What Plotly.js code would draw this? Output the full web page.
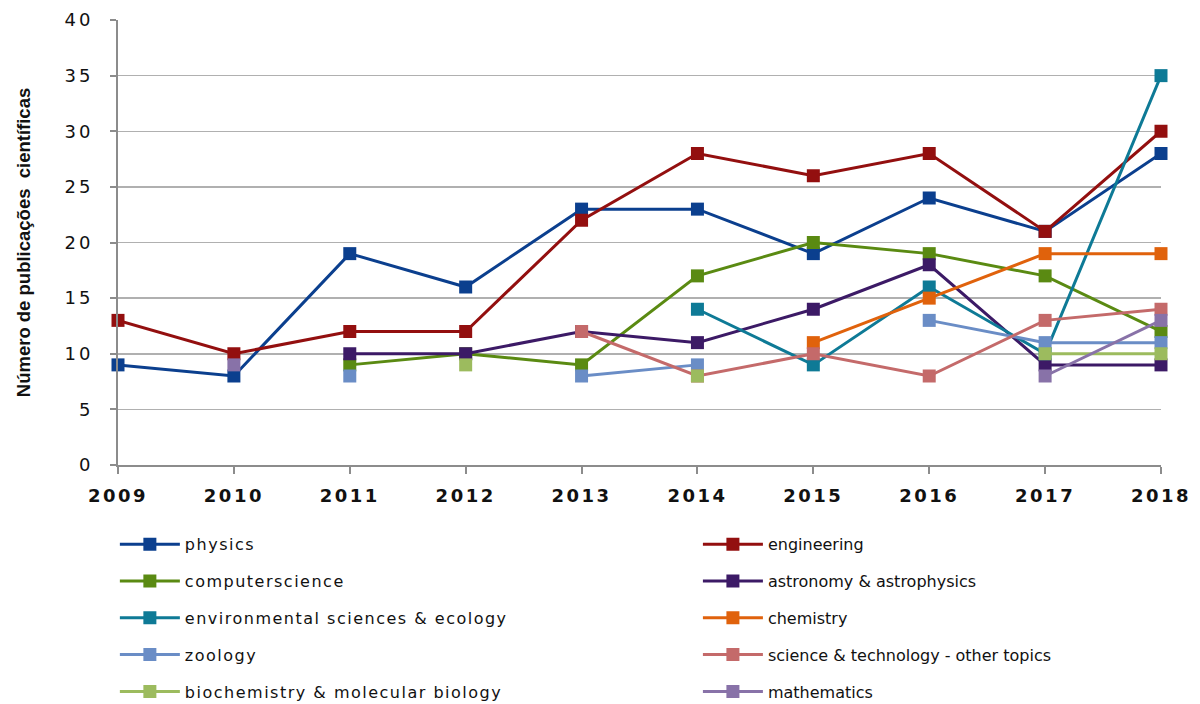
<!DOCTYPE html>
<html><head><meta charset="utf-8">
<script src="https://cdn.plot.ly/plotly-3.0.1.min.js"></script>
<style>
body{margin:0;background:#fff}#c{width:1200px;height:704px}
.xtick text{letter-spacing:2.5px}
.ytick text{letter-spacing:3px}
.legendtext{letter-spacing:1.5px}
</style>
</head><body><div id="c"></div>
<script>
const years = [2009, 2010, 2011, 2012, 2013, 2014, 2015, 2016, 2017, 2018];
const physics      = [9, 8, 19, 16, 23, 23, 19, 24, 21, 28];
const engineering  = [13, 10, 12, 12, 22, 28, 26, 28, 21, 30];
const computerSci  = [null, null, 9, 10, 9, 17, 20, 19, 17, 12];
const astronomy    = [null, null, 10, 10, 12, 11, 14, 18, 9, 9];
const environment  = [null, null, null, null, null, 14, 9, 16, 10, 35];
const chemistry    = [null, null, null, null, null, null, 11, 15, 19, 19];
const zoology      = [null, null, 8, null, 8, 9, null, 13, 11, 11];
const sciTech      = [null, null, null, null, 12, 8, 10, 8, 13, 14];
const biochem      = [null, null, null, 9, null, 8, null, null, 10, 10];
const mathematics  = [null, 9, null, null, null, null, null, null, 8, 13];

const seriesData = [physics, engineering, computerSci, astronomy, environment, chemistry, zoology, sciTech, biochem, mathematics];
const colors = ["#0B3F8E", "#930F0F", "#5A8A12", "#3C1A66", "#0E7A96", "#E0620C", "#6A8DC6", "#C46A6A", "#9CBB5E", "#8872A8"];
const legendLabels = ["physics", "engineering", "computerscience", "astronomy & astrophysics",
  "environmental sciences & ecology", "chemistry", "zoology", "science & technology - other topics",
  "biochemistry & molecular biology", "mathematics"];

const traces = seriesData.map((d, i) => ({
  x: years, y: d, type: "scatter", mode: "lines+markers",
  name: legendLabels[i],
  legend: i % 2 === 0 ? "legend" : "legend2",
  legendgroup: "g" + i,
  line: {color: colors[i], width: 3},
  marker: {symbol: "square", size: 13, color: colors[i]},
  cliponaxis: false,
  connectgaps: false
}));

const tickFont = "'DejaVu Sans', sans-serif";
const legFont = {family: "'DejaVu Sans', sans-serif", size: 16, color: "#111"};
const layout = {
  width: 1200, height: 704,
  margin: {l: 118, r: 39, t: 20, b: 239, autoexpand: false},
  paper_bgcolor: "#fff", plot_bgcolor: "#fff",
  showlegend: true,
  xaxis: {
    range: [2009, 2018], tickvals: years, ticktext: years.map(y => "<b>" + y + "</b>"),
    showgrid: false, zeroline: false, showline: true, linecolor: "#8c8c8c", linewidth: 2,
    ticks: "outside", ticklen: 7, tickwidth: 2, tickcolor: "#8c8c8c", ticklabelstandoff: 6,
    tickfont: {family: tickFont, size: 18, color: "#111"}
  },
  yaxis: {
    range: [0, 40], dtick: 5, showgrid: true, gridcolor: "#b0b0b0", gridwidth: 1.5,
    zeroline: false, showline: true, linecolor: "#8c8c8c", linewidth: 2,
    ticks: "outside", ticklen: 6, tickwidth: 2, tickcolor: "#8c8c8c", ticklabelstandoff: 13,
    tickfont: {family: tickFont, size: 18, color: "#111"},
    title: {text: "<b>Número de publicações  científicas</b>", font: {family: "'Liberation Sans', sans-serif", size: 18.5, color: "#111"}, standoff: 29}
  },
  legend: {
    x: -0.003, xanchor: "left", y: -0.140, yanchor: "top", orientation: "v",
    font: legFont, tracegroupgap: 13, bgcolor: "rgba(0,0,0,0)", itemwidth: 60
  },
  legend2: {
    x: 0.556, xanchor: "left", y: -0.140, yanchor: "top", orientation: "v",
    font: legFont, tracegroupgap: 13, bgcolor: "rgba(0,0,0,0)", itemwidth: 60
  }
};
Plotly.newPlot("c", traces, layout, {displayModeBar: false, staticPlot: true});
</script></body></html>
